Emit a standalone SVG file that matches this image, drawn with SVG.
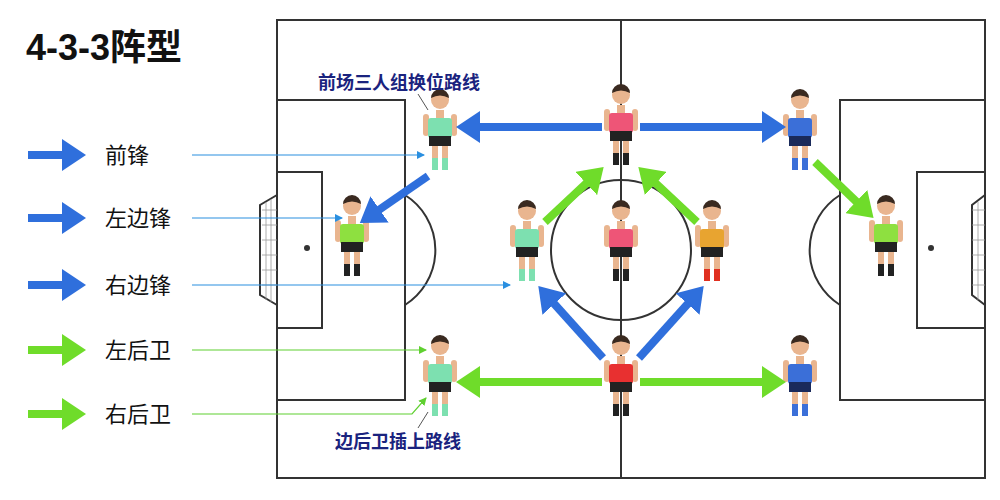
<svg xmlns="http://www.w3.org/2000/svg" width="1000" height="500" viewBox="0 0 1000 500">
<defs>
<style>
.ln{fill:none;stroke:#333;stroke-width:2}
.t{font-family:"Liberation Sans","Noto Sans CJK SC",sans-serif;fill:#111}
.lab{font-size:22px}
.note{font-size:18px;fill:#1a237e;font-weight:bold}
.blue{stroke:#2f6fdc;stroke-width:8;fill:none}
.green{stroke:#6fdc2a;stroke-width:8;fill:none}
.tb{stroke:#2a8fe0;stroke-width:1.2;fill:none}
.tg{stroke:#5fd030;stroke-width:1.2;fill:none}
.skin{fill:#e9b58f}
.hair{fill:#3a2a20}
</style>
<marker id="mb" markerWidth="4" markerHeight="4" refX="1" refY="2" orient="auto" markerUnits="strokeWidth"><path d="M0,0L3,2L0,4Z" fill="#2f6fdc"/></marker>
<marker id="mg" markerWidth="4" markerHeight="4" refX="1" refY="2" orient="auto" markerUnits="strokeWidth"><path d="M0,0L3,2L0,4Z" fill="#6fdc2a"/></marker>
<marker id="sb" markerWidth="8" markerHeight="8" refX="7" refY="4" orient="auto" markerUnits="userSpaceOnUse"><path d="M0,0L8,4L0,8Z" fill="#2a8fe0"/></marker>
<marker id="sg" markerWidth="8" markerHeight="8" refX="7" refY="4" orient="auto" markerUnits="userSpaceOnUse"><path d="M0,0L8,4L0,8Z" fill="#5fd030"/></marker>
<g id="pl">
<rect x="-4" y="-12" width="8" height="10" class="skin"/>
<rect x="-17" y="-8" width="6" height="22" rx="3" class="skin"/>
<rect x="11" y="-8" width="6" height="22" rx="3" class="skin"/>
<rect x="-8" y="22" width="6" height="26" class="skin"/>
<rect x="2" y="22" width="6" height="26" class="skin"/>
<circle cx="0" cy="-22" r="9" class="skin"/>
<path d="M-9,-24a9,9 0 0 1 18,0q-9,-5 -18,0z" class="hair"/>
</g>
</defs>
<rect width="1000" height="500" fill="#fff"/>
<g id="pitch">
<rect x="277" y="20" width="708" height="458" class="ln"/>
<line x1="621" y1="20" x2="621" y2="478" class="ln"/>
<circle cx="621" cy="250" r="70" class="ln"/>
<circle cx="621" cy="250" r="3" fill="#333"/>
<rect x="277" y="100" width="128" height="300" class="ln"/>
<rect x="277" y="172" width="45" height="156" class="ln"/>
<path d="M405,195A65,65 0 0 1 405,305" class="ln"/>
<circle cx="307" cy="248" r="3" fill="#333"/>
<path d="M277,195L260,205L260,295L277,305" class="ln"/>
<path d="M262,210H277M262,225H277M262,240H277M262,255H277M262,270H277M262,285H277M266,202V300M271,199V302" stroke="#999" stroke-width="0.8"/>
<rect x="840" y="100" width="145" height="300" class="ln"/>
<rect x="917" y="172" width="68" height="156" class="ln"/>
<path d="M840,195A65,65 0 0 0 840,305" class="ln"/>
<circle cx="931" cy="248" r="3" fill="#333"/>
<path d="M985,195L972,205L972,295L985,305" class="ln"/>
<path d="M972,210H985M972,225H985M972,240H985M972,255H985M972,270H985M972,285H985M978,202V300" stroke="#999" stroke-width="0.8"/>
</g>
<text x="26" y="60" class="t" font-size="36" font-weight="bold">4-3-3阵型</text>
<g id="players">
<g id="p1" transform="translate(440,122)"><use href="#pl"/><rect x="-12" y="-4" width="24" height="20" rx="3" fill="#7de0b0"/><rect x="-11" y="14" width="22" height="10" fill="#222"/><rect x="-8" y="36" width="6" height="12" fill="#7de0b0"/><rect x="2" y="36" width="6" height="12" fill="#7de0b0"/></g>
<g id="p2" transform="translate(352,228)"><use href="#pl"/><rect x="-12" y="-4" width="24" height="20" rx="3" fill="#8ee040"/><rect x="-11" y="14" width="22" height="10" fill="#222"/><rect x="-8" y="36" width="6" height="12" fill="#222"/><rect x="2" y="36" width="6" height="12" fill="#222"/></g>
<g id="p3" transform="translate(621,117)"><use href="#pl"/><rect x="-12" y="-4" width="24" height="20" rx="3" fill="#ee5577"/><rect x="-11" y="14" width="22" height="10" fill="#222"/><rect x="-8" y="36" width="6" height="12" fill="#222"/><rect x="2" y="36" width="6" height="12" fill="#222"/></g>
<g id="p4" transform="translate(800,122)"><use href="#pl"/><rect x="-12" y="-4" width="24" height="20" rx="3" fill="#3b6fd8"/><rect x="-11" y="14" width="22" height="10" fill="#1a2a5a"/><rect x="-8" y="36" width="6" height="12" fill="#3b6fd8"/><rect x="2" y="36" width="6" height="12" fill="#3b6fd8"/></g>
<g id="p5" transform="translate(886,228)"><use href="#pl"/><rect x="-12" y="-4" width="24" height="20" rx="3" fill="#8ee040"/><rect x="-11" y="14" width="22" height="10" fill="#222"/><rect x="-8" y="36" width="6" height="12" fill="#222"/><rect x="2" y="36" width="6" height="12" fill="#222"/></g>
<g id="p6" transform="translate(527,233)"><use href="#pl"/><rect x="-12" y="-4" width="24" height="20" rx="3" fill="#7de0b0"/><rect x="-11" y="14" width="22" height="10" fill="#222"/><rect x="-8" y="36" width="6" height="12" fill="#7de0b0"/><rect x="2" y="36" width="6" height="12" fill="#7de0b0"/></g>
<g id="p7" transform="translate(621,233)"><use href="#pl"/><rect x="-12" y="-4" width="24" height="20" rx="3" fill="#ee5577"/><rect x="-11" y="14" width="22" height="10" fill="#222"/><rect x="-8" y="36" width="6" height="12" fill="#222"/><rect x="2" y="36" width="6" height="12" fill="#222"/></g>
<g id="p8" transform="translate(712,233)"><use href="#pl"/><rect x="-12" y="-4" width="24" height="20" rx="3" fill="#e8a430"/><rect x="-11" y="14" width="22" height="10" fill="#222"/><rect x="-8" y="36" width="6" height="12" fill="#e03020"/><rect x="2" y="36" width="6" height="12" fill="#e03020"/></g>
<g id="p9" transform="translate(440,368)"><use href="#pl"/><rect x="-12" y="-4" width="24" height="20" rx="3" fill="#7de0b0"/><rect x="-11" y="14" width="22" height="10" fill="#222"/><rect x="-8" y="36" width="6" height="12" fill="#7de0b0"/><rect x="2" y="36" width="6" height="12" fill="#7de0b0"/></g>
<g id="p10" transform="translate(621,368)"><use href="#pl"/><rect x="-12" y="-4" width="24" height="20" rx="3" fill="#e83030"/><rect x="-11" y="14" width="22" height="10" fill="#222"/><rect x="-8" y="36" width="6" height="12" fill="#222"/><rect x="2" y="36" width="6" height="12" fill="#222"/></g>
<g id="p11" transform="translate(800,368)"><use href="#pl"/><rect x="-12" y="-4" width="24" height="20" rx="3" fill="#3b6fd8"/><rect x="-11" y="14" width="22" height="10" fill="#1a2a5a"/><rect x="-8" y="36" width="6" height="12" fill="#3b6fd8"/><rect x="2" y="36" width="6" height="12" fill="#3b6fd8"/></g>
</g>
<g id="connectors">
<line x1="602" y1="127" x2="472" y2="127" class="blue" marker-end="url(#mb)"/>
<line x1="640" y1="127" x2="770" y2="127" class="blue" marker-end="url(#mb)"/>
<line x1="428" y1="176" x2="373" y2="214" class="blue" marker-end="url(#mb)"/>
<line x1="815" y1="162" x2="862" y2="207" class="green" marker-end="url(#mg)"/>
<line x1="545" y1="222" x2="592" y2="178" class="green" marker-end="url(#mg)"/>
<line x1="697" y1="222" x2="650" y2="178" class="green" marker-end="url(#mg)"/>
<line x1="603" y1="358" x2="549" y2="298" class="blue" marker-end="url(#mb)"/>
<line x1="639" y1="358" x2="693" y2="298" class="blue" marker-end="url(#mb)"/>
<line x1="602" y1="382" x2="472" y2="382" class="green" marker-end="url(#mg)"/>
<line x1="640" y1="382" x2="770" y2="382" class="green" marker-end="url(#mg)"/>
<line x1="192" y1="155" x2="424" y2="155" class="tb" marker-end="url(#sb)"/>
<line x1="192" y1="218" x2="342" y2="218" class="tb" marker-end="url(#sb)"/>
<line x1="192" y1="285" x2="510" y2="285" class="tb" marker-end="url(#sb)"/>
<line x1="192" y1="350" x2="426" y2="350" class="tg" marker-end="url(#sg)"/>
<polyline points="192,414 412,414 426,398" class="tg" marker-end="url(#sg)"/>
<line x1="418" y1="94" x2="428" y2="110" stroke="#555" stroke-width="1"/>
<line x1="418" y1="428" x2="428" y2="412" stroke="#555" stroke-width="1"/>
</g>
<g id="legend">
<line x1="28" y1="155" x2="70" y2="155" class="blue" marker-end="url(#mb)"/>
<line x1="28" y1="218" x2="70" y2="218" class="blue" marker-end="url(#mb)"/>
<line x1="28" y1="285" x2="70" y2="285" class="blue" marker-end="url(#mb)"/>
<line x1="28" y1="350" x2="70" y2="350" class="green" marker-end="url(#mg)"/>
<line x1="28" y1="414" x2="70" y2="414" class="green" marker-end="url(#mg)"/>
<text x="105" y="163" class="t lab">前锋</text>
<text x="105" y="226" class="t lab">左边锋</text>
<text x="105" y="293" class="t lab">右边锋</text>
<text x="105" y="358" class="t lab">左后卫</text>
<text x="105" y="422" class="t lab">右后卫</text>
<text x="318" y="89" class="t note">前场三人组换位路线</text>
<text x="335" y="448" class="t note">边后卫插上路线</text>
</g>
</svg>
